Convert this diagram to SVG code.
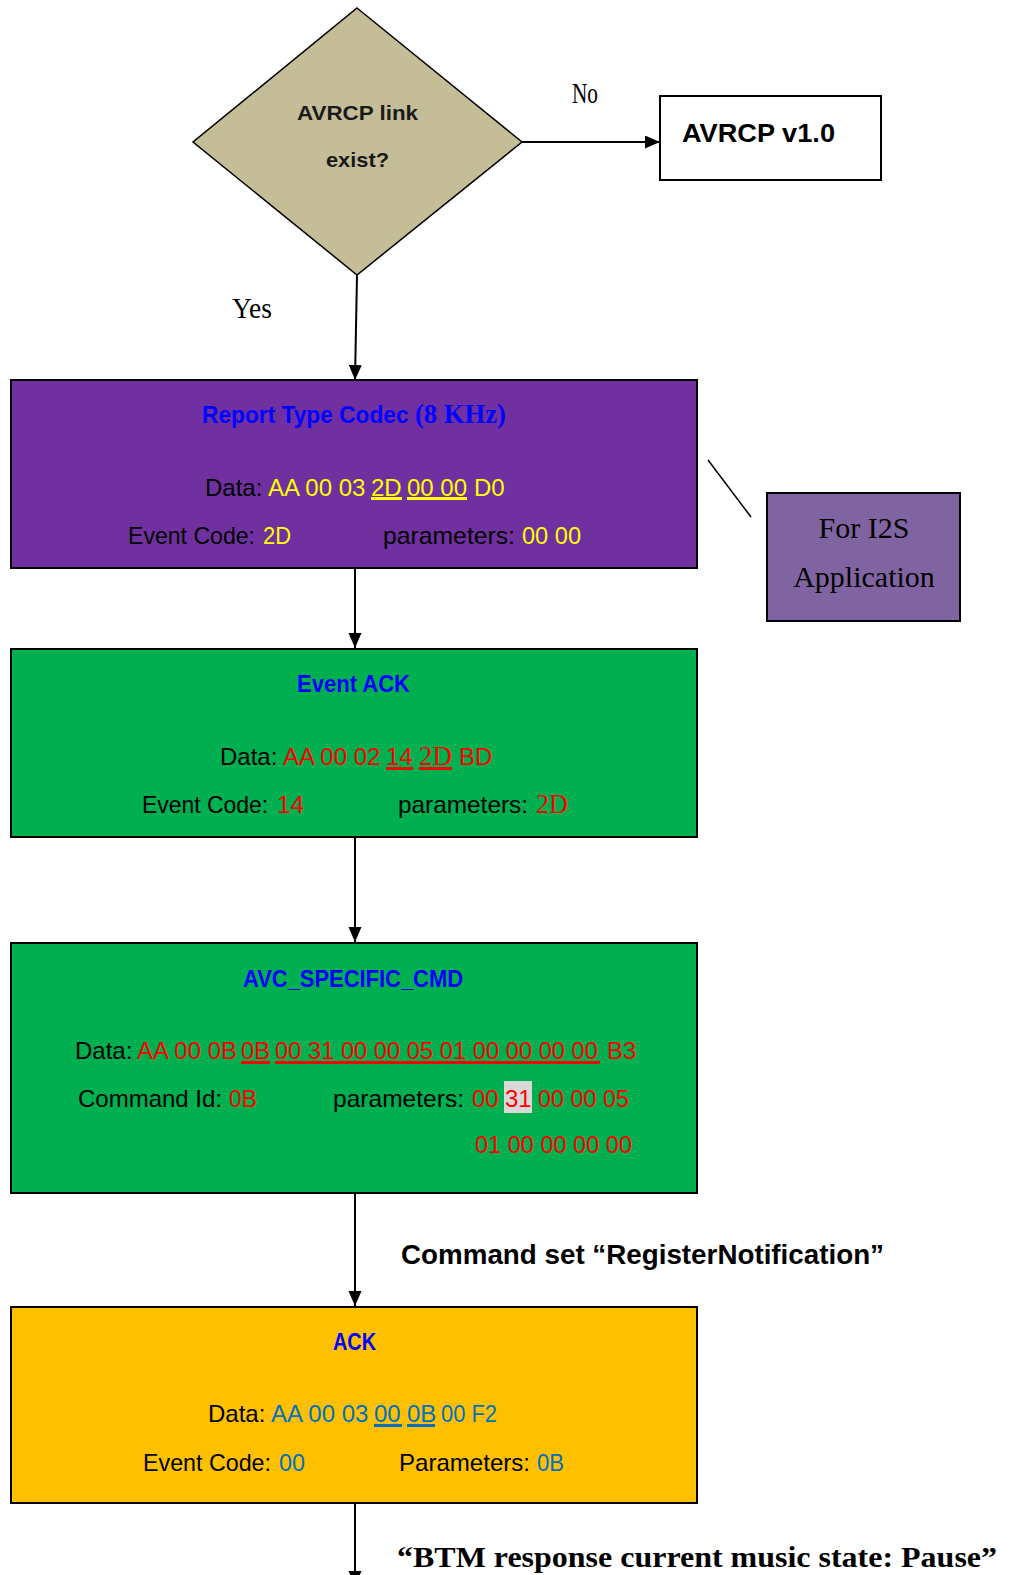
<svg xmlns="http://www.w3.org/2000/svg" width="1013" height="1575" viewBox="0 0 1013 1575">
<defs>
<style>
.box{stroke:#000;stroke-width:2}
.t{font-family:"Liberation Sans",Arial,sans-serif;font-size:24px;fill:#000}
.ttl{font-family:"Liberation Sans",Arial,sans-serif;font-size:23px;font-weight:bold;fill:#0000FF}
.serif{font-family:"Liberation Serif","Times New Roman",serif}
.big{font-size:27px}
.y{fill:#FFFF00}.r{fill:#FF0000}.b{fill:#0070C0}
.conn{stroke:#000;stroke-width:2;fill:none}
</style>
<marker id="ah" markerUnits="userSpaceOnUse" markerWidth="16" markerHeight="14" refX="15" refY="6.5" orient="auto">
<path d="M0,0 L15,6.5 L0,13 z" fill="#000"/>
</marker>
</defs>
<rect width="1013" height="1575" fill="#fff"/>

<g id="connectors">
<line class="conn" x1="522" y1="142" x2="660" y2="142" marker-end="url(#ah)"/>
<line class="conn" x1="357" y1="275" x2="355" y2="380" marker-end="url(#ah)"/>
<line class="conn" x1="355" y1="569" x2="355" y2="648" marker-end="url(#ah)"/>
<line class="conn" x1="355" y1="838" x2="355" y2="942" marker-end="url(#ah)"/>
<line class="conn" x1="355" y1="1193" x2="355" y2="1306" marker-end="url(#ah)"/>
<line class="conn" x1="355" y1="1504" x2="355" y2="1586" marker-end="url(#ah)"/>
<line stroke="#000" stroke-width="1.5" x1="708" y1="460" x2="751" y2="517"/>
<text class="serif" x="572" y="103" font-size="30" textLength="26" lengthAdjust="spacingAndGlyphs">No</text>
<text class="serif" x="232" y="318" font-size="30" textLength="40" lengthAdjust="spacingAndGlyphs">Yes</text>
<text x="401" y="1264" font-family="Liberation Sans, Arial, sans-serif" font-size="27" font-weight="bold" fill="#000" textLength="483" lengthAdjust="spacingAndGlyphs">Command set “RegisterNotification”</text>
<text class="serif" x="397" y="1567" font-size="30" font-weight="bold" fill="#000" textLength="600" lengthAdjust="spacingAndGlyphs">“BTM response current music state: Pause”</text>
</g>

<g id="decision">
<polygon points="357,8 522,142 357,275 193,142" fill="#C4BD97" stroke="#000" stroke-width="1.5"/>
<text x="297" y="120" font-family="Liberation Sans, Arial, sans-serif" font-size="21" font-weight="bold" fill="#1a1a1a" textLength="121" lengthAdjust="spacingAndGlyphs">AVRCP link</text>
<text x="326" y="167" font-family="Liberation Sans, Arial, sans-serif" font-size="21" font-weight="bold" fill="#1a1a1a" textLength="63" lengthAdjust="spacingAndGlyphs">exist?</text>
</g>

<g id="avrcp10">
<rect x="660" y="96" width="221" height="84" fill="#fff" class="box"/>
<text x="682" y="142" font-family="Liberation Sans, Arial, sans-serif" font-size="26" font-weight="bold" fill="#000" textLength="153" lengthAdjust="spacingAndGlyphs">AVRCP v1.0</text>
</g>

<g id="report-type-codec">
<rect x="11" y="380" width="686" height="188" fill="#7030A0" class="box"/>
<text class="ttl" x="202" y="423" textLength="304" lengthAdjust="spacingAndGlyphs">Report Type Codec <tspan class="serif big">(8 KHz)</tspan></text>
<text class="t" y="496"><tspan x="205">Data:</tspan><tspan class="y" x="268">AA 00 03</tspan><tspan class="y" x="371">2D</tspan><tspan class="y" x="407">00 00</tspan><tspan class="y" x="474">D0</tspan></text>
<rect x="371" y="497" width="31" height="3" fill="#FFFF00"/>
<rect x="407" y="497" width="60" height="3" fill="#FFFF00"/>
<text class="t" x="128" y="544" textLength="127" lengthAdjust="spacingAndGlyphs">Event Code:</text>
<text class="t y" x="263" y="544" textLength="28" lengthAdjust="spacingAndGlyphs">2D</text>
<text class="t" x="383" y="544" textLength="132" lengthAdjust="spacingAndGlyphs">parameters:</text>
<text class="t y" x="522" y="544" textLength="59" lengthAdjust="spacingAndGlyphs">00 00</text>
</g>

<g id="for-i2s">
<rect x="767" y="493" width="193" height="128" fill="#8064A2" class="box"/>
<text class="serif" x="864" y="538" font-size="30" fill="#000" text-anchor="middle">For I2S</text>
<text class="serif" x="864" y="587" font-size="30" fill="#000" text-anchor="middle">Application</text>
</g>

<g id="event-ack">
<rect x="11" y="649" width="686" height="188" fill="#00B050" class="box"/>
<text class="ttl" x="297" y="692" textLength="113" lengthAdjust="spacingAndGlyphs">Event ACK</text>
<text class="t" y="765"><tspan x="220">Data:</tspan><tspan class="r" x="283">AA 00 02</tspan><tspan class="r" x="386">14</tspan><tspan class="r serif big" x="419">2D</tspan><tspan class="r" x="459">BD</tspan></text>
<rect x="386" y="767" width="27" height="3" fill="#FF0000"/>
<rect x="419" y="767" width="33" height="3" fill="#FF0000"/>
<text class="t" x="142" y="813" textLength="126" lengthAdjust="spacingAndGlyphs">Event Code:</text>
<text class="t r" x="277" y="813" textLength="27" lengthAdjust="spacingAndGlyphs">14</text>
<text class="t" x="398" y="813" textLength="130" lengthAdjust="spacingAndGlyphs">parameters:</text>
<text class="r serif big" x="536" y="813" textLength="32" lengthAdjust="spacingAndGlyphs">2D</text>
</g>

<g id="avc-specific-cmd">
<rect x="11" y="943" width="686" height="250" fill="#00B050" class="box"/>
<text class="ttl" x="243" y="987" textLength="220" lengthAdjust="spacingAndGlyphs">AVC_SPECIFIC_CMD</text>
<text class="t" y="1059"><tspan x="75">Data:</tspan><tspan class="r" x="137">AA 00 0B</tspan><tspan class="r" x="241">0B</tspan><tspan class="r" x="607">B3</tspan></text>
<text class="t r" x="275" y="1059" textLength="323" lengthAdjust="spacingAndGlyphs">00 31 00 00 05 01 00 00 00 00</text>
<rect x="241" y="1061" width="29" height="3" fill="#FF0000"/>
<rect x="275" y="1061" width="325" height="3" fill="#FF0000"/>
<text class="t" x="78" y="1107" textLength="144" lengthAdjust="spacingAndGlyphs">Command Id:</text>
<text class="t r" x="229" y="1107" textLength="28" lengthAdjust="spacingAndGlyphs">0B</text>
<rect x="504" y="1081" width="28" height="32" fill="#D9D9D9"/>
<text class="t" y="1107"><tspan x="333" textLength="131" lengthAdjust="spacingAndGlyphs">parameters:</tspan><tspan class="r" x="472">00</tspan><tspan class="r" x="505">31</tspan></text>
<text class="t r" x="538" y="1107" textLength="91" lengthAdjust="spacingAndGlyphs">00 00 05</text>
<text class="t r" x="475" y="1153" textLength="157" lengthAdjust="spacingAndGlyphs">01 00 00 00 00</text>
</g>

<g id="ack">
<rect x="11" y="1307" width="686" height="196" fill="#FFC000" class="box"/>
<text class="ttl" x="333" y="1350" textLength="43" lengthAdjust="spacingAndGlyphs">ACK</text>
<text class="t" y="1422"><tspan x="208">Data:</tspan><tspan class="b" x="271">AA 00 03</tspan><tspan class="b" x="374">00</tspan><tspan class="b" x="407">0B</tspan></text>
<text class="t b" x="441" y="1422" textLength="56" lengthAdjust="spacingAndGlyphs">00 F2</text>
<rect x="374" y="1424" width="28" height="3" fill="#0070C0"/>
<rect x="407" y="1424" width="28" height="3" fill="#0070C0"/>
<text class="t" x="143" y="1471" textLength="128" lengthAdjust="spacingAndGlyphs">Event Code:</text>
<text class="t b" x="279" y="1471" textLength="26" lengthAdjust="spacingAndGlyphs">00</text>
<text class="t" x="399" y="1471" textLength="131" lengthAdjust="spacingAndGlyphs">Parameters:</text>
<text class="t b" x="537" y="1471" textLength="27" lengthAdjust="spacingAndGlyphs">0B</text>
</g>
</svg>
